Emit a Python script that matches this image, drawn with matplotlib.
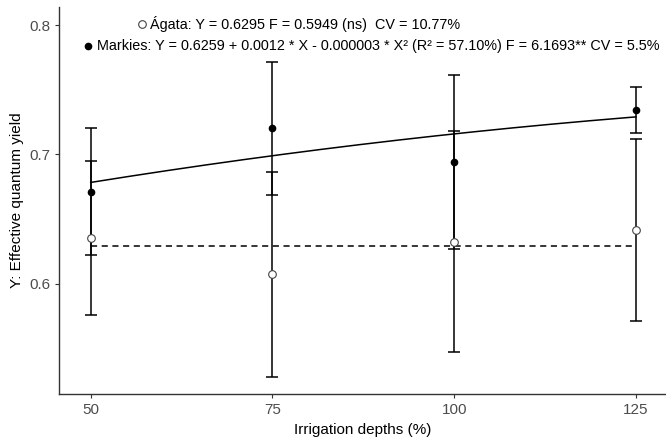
# effective quantum yield of two cultivars under irrigation depths
# means with error bars, fitted regression for Markies, mean line for Agata

import numpy as np
import matplotlib

matplotlib.use('Agg')
import matplotlib.pyplot as plt

plt.rcParams['font.family'] = ['Liberation Sans', 'DejaVu Sans']

# irrigation depths (%)
irrigation = [50, 75, 100, 125]

# Markies: means and error bar half widths
markies_mean = [0.6713, 0.7202, 0.6940, 0.7344]
markies_err = [0.0490, 0.0515, 0.0670, 0.0180]

# Agata: means and error bar half widths
agata_mean = [0.6355, 0.6075, 0.6327, 0.6417]
agata_err = [0.0595, 0.0790, 0.0855, 0.0705]

# regression coefficients
markies_coef = [0.6259, 0.0012, -0.000003]
agata_level = 0.6295

legend_agata = 'Ágata: Y = 0.6295 F = 0.5949 (ns)  CV = 10.77%'
legend_markies = ('Markies: Y = 0.6259 + 0.0012 * X - 0.000003 * X² '
                  '(R² = 57.10%) F = 6.1693** CV = 5.5%')


def main():
    fig = plt.figure(figsize=(6.66, 4.38), dpi=100)
    ax = fig.add_axes([0.089, 0.1005, 0.911, 0.8835])

    # fitted curve and constant mean
    xs = np.linspace(irrigation[0], irrigation[-1], 200)
    ys = markies_coef[0] + markies_coef[1] * xs + markies_coef[2] * xs ** 2
    ax.plot(xs, ys, color='black', lw=1.1, zorder=2)
    ax.plot([irrigation[0], irrigation[-1]], [agata_level, agata_level],
            color='black', lw=1.1, ls=(0, (4, 3)), zorder=2)

    # error bars
    ax.errorbar(irrigation, markies_mean, yerr=markies_err, fmt='none',
                ecolor='black', elinewidth=1.1, capsize=4, capthick=1.1, zorder=3)
    ax.errorbar(irrigation, agata_mean, yerr=agata_err, fmt='none',
                ecolor='black', elinewidth=1.1, capsize=4, capthick=1.1, zorder=3)

    # points
    ax.plot(irrigation, markies_mean, 'o', color='black', ms=4.5, zorder=4)
    ax.plot(irrigation, agata_mean, 'o', mfc='white', mec='#444444',
            mew=0.8, ms=5.5, zorder=4)

    # legend lines at the top
    ax.plot([0.136], [0.956], 'o', mfc='white', mec='#444444', mew=0.8, ms=5.5,
            transform=ax.transAxes, clip_on=False)
    ax.text(0.150, 0.956, legend_agata, transform=ax.transAxes,
            fontsize=10.4, va='center', ha='left')
    ax.plot([0.047], [0.899], 'o', color='black', ms=4.5,
            transform=ax.transAxes, clip_on=False)
    ax.text(0.062, 0.899, legend_markies, transform=ax.transAxes,
            fontsize=10.4, va='center', ha='left')

    ax.set_xlim(45.68, 129.13)
    ax.set_ylim(0.515, 0.8139)
    ax.set_xticks(irrigation)
    ax.set_yticks([0.6, 0.7, 0.8])
    ax.set_yticklabels(['0.6', '0.7', '0.8'])
    ax.tick_params(labelsize=11, labelcolor='#4d4d4d', color='#333333',
                   length=3, width=0.8)
    ax.set_xlabel('Irrigation depths (%)', fontsize=11)
    ax.set_ylabel('Y: Effective quantum yield', fontsize=11)

    for side in ['top', 'right']:
        ax.spines[side].set_visible(False)
    for side in ['left', 'bottom']:
        ax.spines[side].set_color('#333333')
        ax.spines[side].set_linewidth(1.0)

    fig.savefig('out.png', dpi=100)


if __name__ == '__main__':
    main()
